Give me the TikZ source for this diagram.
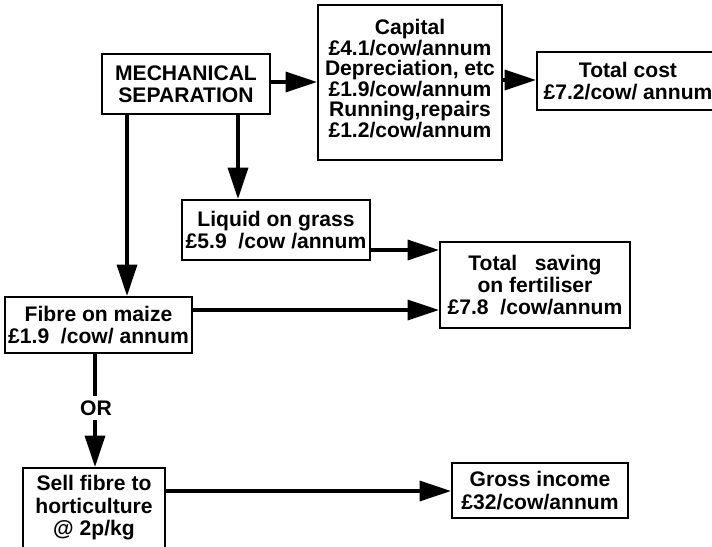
\documentclass[tikz,border=0pt]{standalone}
\usepackage{fontspec}
\setmainfont{Liberation Sans}
\usetikzlibrary{arrows.meta}

\begin{document}
\begin{tikzpicture}[x=0.025cm, y=-0.025cm,
		box/.style={draw, line width=1.5pt, inner sep=0pt, align=center, font=\bfseries\fontsize{15}{15.8}\selectfont},
		flow/.style={line width=2.2pt, -{Triangle[length=0.78cm, width=0.5cm]}}]
		\useasboundingbox (0,0) rectangle (712,547);
		\node[box, minimum width=4.2cm, minimum height=1.5cm] (mech) at (186,84) {MECHANICAL\\SEPARATION};
		\node[box, font=\bfseries\fontsize{15}{14.6}\selectfont, minimum width=4.6cm, minimum height=3.875cm] (cap) at (410,82.5) {Capital\\£4.1/cow/annum\\Depreciation, etc\\£1.9/cow/annum\\Running,repairs\\£1.2/cow/annum\\[-13pt]\strut};
		\node[box, minimum width=4.55cm, minimum height=1.45cm] (tot) at (628,81) {Total cost\\£7.2/cow/ annum};
		\node[box, minimum width=4.7cm, minimum height=1.5cm] (liq) at (276,230) {Liquid on grass\\£5.9\ \ /cow /annum};
		\node[box, minimum width=4.75cm, minimum height=2.15cm] (sav) at (535,285) {Total\ \ \ saving\\on fertiliser\\£7.8\ \ /cow/annum};
		\node[box, minimum width=4.675cm, minimum height=1.4cm] (fib) at (98.5,325) {Fibre on maize\\£1.9\ \ /cow/ annum};
		\node[font=\bfseries\fontsize{15}{15.8}\selectfont, inner sep=3pt] (alt) at (96,408) {OR};
		\node[box, minimum width=3.55cm, minimum height=2.6cm] (sell) at (94,520) {Sell fibre to\\horticulture\\@ 2p/kg\\\strut};
		\node[box, minimum width=4.4cm, minimum height=1.375cm] (gross) at (540,490.5) {Gross income\\£32/cow/annum};
		\draw[flow] (mech.east |- 0,82) -- (cap.west |- 0,82);
		\draw[flow] (cap.east |- 0,80) -- (tot.west |- 0,80);
		\draw[flow] (mech.south -| 238,0) -- (liq.north -| 238,0);
		\draw[flow] (mech.south -| 127,0) -- (fib.north -| 127,0);
		\draw[flow] (liq.east |- 0,250) -- (sav.west |- 0,250);
		\draw[flow] (fib.east |- 0,310) -- (sav.west |- 0,310);
		\draw[line width=2.2pt] (fib.south -| 95,0) -- (alt.north -| 95,0);
		\draw[flow] (alt.south -| 95,0) -- (sell.north -| 95,0);
		\draw[flow] (sell.east |- 0,491) -- (gross.west |- 0,491);
	\end{tikzpicture}
\end{document}
